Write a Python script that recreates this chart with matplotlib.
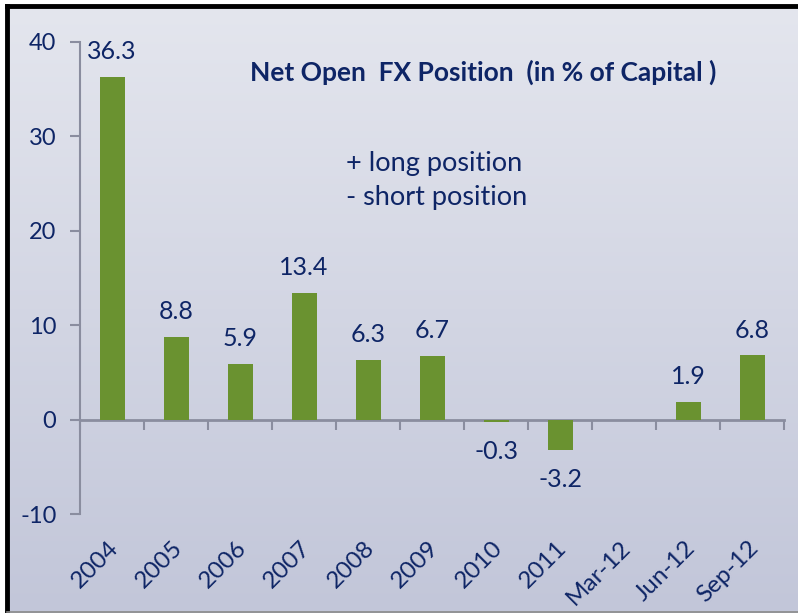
import numpy as np
import matplotlib
matplotlib.use('Agg')
from matplotlib import pyplot as plt
from matplotlib.lines import Line2D

plt.rcParams['font.family'] = ['Lato', 'DejaVu Sans']

categories = ['2004', '2005', '2006', '2007', '2008', '2009', '2010', '2011',
              'Mar-12', 'Jun-12', 'Sep-12']
values = [36.3, 8.8, 5.9, 13.4, 6.3, 6.7, -0.3, -3.2, np.nan, 1.9, 6.8]
value_labels = ['36.3', '8.8', '5.9', '13.4', '6.3', '6.7', '-0.3', '-3.2', '', '1.9', '6.8']
y_ticks = [-10, 0, 10, 20, 30, 40]

text_color = '#0e2566'
bar_color = '#6a9230'
axis_color = '#8a8d9f'

fig = plt.figure(figsize=(7.98, 6.13), dpi=100)
fig.patch.set_facecolor('white')

# gradient background inside the frame
bg = fig.add_axes([0.009, 0.0, 0.991, 0.991], zorder=-5)
grad = np.linspace(0, 1, 256).reshape(-1, 1)
cmap = matplotlib.colors.LinearSegmentedColormap.from_list('bg', ['#c2c6d9', '#e4e6ee'])
bg.imshow(grad, aspect='auto', cmap=cmap, origin='lower', extent=[0, 1, 0, 1])
bg.axis('off')

# frame lines
fig.add_artist(Line2D([0.009, 1.0], [0.991, 0.991], color='black', linewidth=3.5, transform=fig.transFigure))
fig.add_artist(Line2D([0.009, 0.009], [0.0, 0.991], color='black', linewidth=3.5, transform=fig.transFigure))
fig.add_artist(Line2D([0.009, 1.0], [0.002, 0.002], color='#8a8a8a', linewidth=1.2, transform=fig.transFigure))

ax = fig.add_axes([0.1003, 0.1615, 0.8822, 0.77])
ax.set_facecolor('none')

x = np.arange(len(categories))
ax.bar(x, values, width=0.39, color=bar_color, zorder=3)

for xi, v, lab in zip(x, values, value_labels):
    if not lab:
        continue
    if v >= 0:
        ax.annotate(lab, (xi, v), xytext=(0, 10), textcoords='offset points',
                    ha='center', va='bottom', fontsize=18, color=text_color)
    else:
        ax.annotate(lab, (xi, v), xytext=(0, -13), textcoords='offset points',
                    ha='center', va='top', fontsize=18, color=text_color)

ax.set_xlim(-0.5, len(categories) - 0.5)
ax.set_ylim(-10, 40)
ax.set_yticks(y_ticks)
ax.set_yticklabels([str(t) for t in y_ticks], fontsize=17, color=text_color)

ax.spines['top'].set_visible(False)
ax.spines['right'].set_visible(False)
ax.spines['left'].set_color(axis_color)
ax.spines['left'].set_linewidth(1.5)
ax.spines['bottom'].set_position(('data', 0))
ax.spines['bottom'].set_color(axis_color)
ax.spines['bottom'].set_linewidth(2)
ax.tick_params(axis='y', length=7, width=1.5, color=axis_color, pad=10)

ax.set_xticks(np.arange(-0.5, len(categories), 1.0))
ax.set_xticklabels([])
ax.tick_params(axis='x', length=7, width=1.5, color=axis_color, direction='out')

for xi, cat in zip(x, categories):
    ax.text(xi + 0.17, -12.4, cat, rotation=45, ha='right', va='top',
            fontsize=17.5, color=text_color, clip_on=False)

fig.text(0.605, 0.882, 'Net Open  FX Position  (in % of Capital )', ha='center', va='center',
         fontsize=19, fontweight='bold', color=text_color)
fig.text(0.434, 0.734, '+ long position', ha='left', va='center', fontsize=19.5, color=text_color)
fig.text(0.434, 0.677, '- short position', ha='left', va='center', fontsize=19.5, color=text_color)

fig.savefig('out.png', dpi=100)
